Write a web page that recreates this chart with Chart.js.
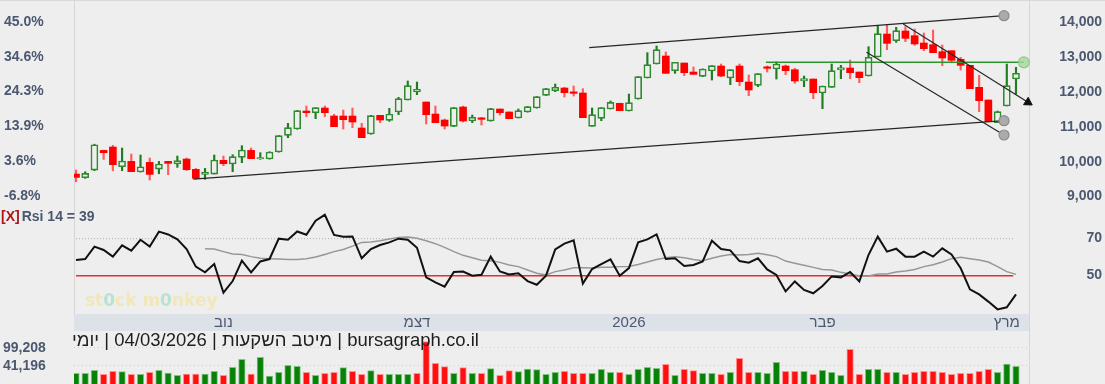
<!DOCTYPE html>
<html>
<head>
<meta charset="utf-8">
<script src="https://cdn.jsdelivr.net/npm/chart.js@4.4.1/dist/chart.umd.min.js"></script>
<style>
  body { margin: 0; background: #eeeeee; width: 1105px; height: 384px; overflow: hidden; position: relative;
         font-family: "Liberation Sans", Arial, sans-serif; }
  .panel { position: absolute; left: 0; }
  .vline { position: absolute; width: 1px; background: #d6d6d6; }
  #topline { position: absolute; left: 0; top: 0; width: 1105px; height: 1px; background: #d8d8d8; }
  #rsiLabel { position: absolute; left: 1px; top: 208px; font-size: 14px; font-weight: bold; color: #4b5870; white-space: nowrap; }
  #rsiLabel .x { color: #b01515; margin-right: 2px; }
  #info { position: absolute; left: 72px; top: 329px; font-size: 18.5px; color: #1e1e1e; white-space: nowrap; }
  #wm { position: absolute; left: 85px; top: 290px; font-family: "DejaVu Sans", sans-serif; font-weight: bold;
        font-size: 17px; color: rgba(245, 226, 150, 0.6); white-space: nowrap; }
  #wm .o { color: rgba(150, 220, 190, 0.6); }
</style>
</head>
<body>
<div id="topline"></div>
<div class="vline" style="left:74px;top:0;height:314px"></div>
<div class="vline" style="left:1029px;top:0;height:384px"></div>
<div class="panel" style="top:0"><canvas id="price" width="1105" height="205"></canvas></div>
<div class="panel" style="top:205px"><canvas id="rsi" width="1105" height="126"></canvas></div>
<div class="panel" style="top:331px"><canvas id="vol" width="1105" height="53"></canvas></div>
<div id="rsiLabel"><span class="x">[X]</span>Rsi 14 = 39</div>
<div id="wm">st<span class="o">0</span>ck m<span class="o">0</span>nkey</div>
<div id="info" dir="rtl">bursagraph.co.il | מיטב השקעות | 04/03/2026 | יומי</div>
<script>
// daily candles
const opens = [9602,9497,9717,10282,10379,9813,9967,9660,9938,9746,
  9967,9890,10034,9737,9593,9602,9996,9890,10082,10282,
  10034,10034,10235,10714,10896,11413,11366,11500,11270,11270,
  11270,10925,10752,11289,11145,11385,11730,11959,11672,11327,
  11155,10973,11528,11126,11212,11126,11471,11385,11212,11385,
  11500,11864,11998,12074,11959,11931,10973,11203,11471,11634,
  11413,11758,12362,12764,12994,12573,12793,12534,12410,12563,
  12707,12362,12707,12247,12151,12678,12620,12707,12601,12276,
  12333,11931,12094,12592,12649,12534,12419,12965,13626,13435,
  13713,13578,13368,13320,13119,13147,12898,12726,12094,11730,
  11078,11557,12333];
const highs = [9717,9669,10460,10292,10427,10350,10177,10149,10063,9967,
  9967,10120,10063,9765,9765,10149,10120,10158,10417,10350,
  10216,10245,10710,11059,11430,11557,11509,11557,11318,11442,
  11500,11059,11290,11289,11490,11806,12276,12247,11672,11557,
  11183,11515,11557,11298,11232,11490,11471,11390,11471,11545,
  11830,12060,12189,12094,12132,12055,11500,11509,11701,11640,
  11902,12405,13090,13282,13109,12812,12793,12678,12625,12716,
  12764,12601,12764,12448,12486,12707,12822,12735,12640,12419,
  12333,12132,12764,12726,12879,12534,13262,13856,13885,13818,
  13837,13770,13655,13741,13310,13147,12956,12726,12438,11730,
  11413,12764,12668];
const lows = [9382,9478,9700,10024,9698,9698,9670,9660,9430,9612,
  9584,9794,9708,9459,9450,9602,9842,9669,9929,10044,
  10024,10030,10230,10647,10890,11251,11193,11251,10963,10896,
  10934,10647,10745,11078,11116,11308,11730,11883,11040,11078,
  10896,10965,11097,11078,11011,11120,11298,11190,11212,11380,
  11495,11860,11969,11816,11845,11222,10973,11136,11471,11420,
  11413,11755,12362,12764,12496,12496,12429,12467,12405,12304,
  12400,12170,12141,11854,12113,12534,12333,12458,12209,12113,
  11768,11481,12094,12343,12343,12228,12419,12965,13176,13387,
  13406,13301,13147,13090,12716,12802,12592,12055,11394,11107,
  11078,11557,11902];
const closes = [9506,9621,10445,10216,9871,9976,9670,9813,9593,9890,
  9909,9986,9727,9478,9660,10005,9900,10101,10292,10044,
  10072,10235,10705,10934,11423,11366,11509,11366,10963,11164,
  11097,10647,11280,11155,11327,11768,12141,12036,11308,11078,
  10982,11509,11126,11232,11174,11481,11366,11193,11423,11538,
  11825,12055,12094,11940,11921,11222,11308,11509,11662,11423,
  11653,12400,12745,13176,12496,12812,12515,12467,12620,12716,
  12419,12601,12256,12017,12486,12640,12764,12573,12276,12343,
  11940,12132,12573,12659,12515,12371,12956,13636,13358,13722,
  13502,13339,13205,13090,12937,12870,12726,12055,11710,11107,
  11394,12141,12496];
const volumes = [14400,14400,24100,11200,20800,19800,11200,11200,17600,24100,
  15500,7900,12200,12200,12200,20800,7900,33700,59500,12200,
  65900,5800,17600,40200,36900,17600,7900,14400,17600,32600,
  20800,11200,23000,11200,11200,11200,11200,14400,116400,46600,
  35900,14400,32600,14400,14400,29400,7900,23000,19800,28400,
  26200,11200,17600,20800,14400,14400,14400,27300,17600,17600,
  11200,27300,33700,30500,43400,7900,27300,23000,14400,14400,
  11200,17600,62700,17600,17600,14400,49800,20800,20800,20800,
  11200,24100,17600,7900,91700,11200,27300,27300,17600,17600,
  11200,17600,20800,20800,17600,11200,14400,14400,20800,27300,
  17600,44500,36900];
const rsi = [58.5,59,65.7,63.9,60.3,66.4,63.5,69.4,65.7,73.8,
  72.3,69.6,64.4,54.9,51.8,56.3,40.8,47.1,58.1,51.8,
  57.7,59,70,69.4,73.9,72.1,79.7,82.9,72,71.1,
  71.2,59.4,64.4,66.6,68,70,69.4,65.1,49.1,46.4,
  44.1,52,52.2,50,50.5,60.3,52.3,50.7,51.3,47.1,
  45.1,50,64.2,67.3,69.1,45.7,53.6,56.3,58.8,50,
  54.1,68,69.6,72.3,59,59.4,55.2,55.8,57.7,68.9,
  64.4,63.7,57.9,57,59.4,53.4,50.4,41.5,46.9,42.3,
  40.5,44.4,49.6,49.1,52,46.9,61.3,71.1,63,64.6,
  60.3,60.3,63,60.3,64.8,61.5,54,42.6,39.9,36,
  31.8,32.9,39.9];
const rsiAvg = [null,null,null,null,null,null,null,null,null,null,
  null,null,null,null,64.6,64.4,63,61.7,61.5,60.3,
  59.4,59.2,59,58.8,58.8,59.2,60.1,61.5,63,64.2,
  66,68,68.2,68.9,69.8,70.7,70.9,70.2,68.9,67.3,
  65.3,63,61,59.7,58.3,58.1,57.2,55.8,54.9,53.1,
  51.3,50.4,52.2,53.1,54.3,54.3,54.1,54.5,54.5,54.9,
  55,56.1,57.4,58.8,59.7,60.3,59.7,58.8,58.1,59.4,
  60.6,61.5,61.2,61.5,62.1,61.3,60.3,57.9,56.7,55.6,
  54.5,53.4,53.1,51.8,50.9,49.8,49.8,50.9,50.9,52,
  52.5,53.4,54.9,55.9,57.4,59.2,59.9,59.2,58.5,57.4,
  54.9,52.2,50.7];

// axis labels
const priceTicks = [9000, 10000, 11000, 12000, 13000, 14000];
const pctLabels = ['-6.8%', '3.6%', '13.9%', '24.3%', '34.6%', '45.0%'];
const rsiTicks = [50, 70];
const volTicks = [41196, 99208];
const monthTicks = [16, 37, 60, 81, 101];
const monthLabels = ['נוב', 'דצמ', '2026', 'פבר', 'מרץ'];

// drawn lines: [candle index, price]
const channelLow = [[12.73, 9459], [100.7, 11135]];
const channelHigh = [[55.69, 13233], [100.7, 14152]];
const fallHigh = [[89.76, 13914], [103.3, 11663]];
const fallLow = [[85.78, 13100], [100.7, 10724]];
const resistance = [[74.86, 12813], [102.85, 12813]];
const rsiLineEnd = 101.7;

const TXT = '#4b5870';
const X_MIN = -0.217, X_MAX = 103.41;

Chart.defaults.font.family = '"Liberation Sans", Arial, sans-serif';
Chart.defaults.animation = false;
Chart.defaults.plugins.legend.display = false;
Chart.defaults.plugins.tooltip.enabled = false;

const isUp = opens.map((o, i) => closes[i] >= o);
const volUp = closes.map((c, i) => i === 0 || c >= closes[i - 1]);
const xAxis = { type: 'linear', min: X_MIN, max: X_MAX, offset: false, display: false };
const boldTicks = { font: { size: 14, weight: 'bold' }, color: TXT, autoSkip: false, crossAlign: 'far', padding: 0 };

// fixed width, and no extra room for the end labels
const fitY = w => s => { s.width = w; s.paddingTop = 0; s.paddingBottom = 0; };

function trend(points, color, width, marker) {
  const ds = {
    type: 'line',
    data: points.map(p => ({ x: p[0], y: p[1] })),
    borderColor: color,
    borderWidth: width,
    pointRadius: [0, 0],
    clip: false
  };
  if (marker === 'grey') {
    Object.assign(ds, { pointRadius: [0, 5], pointBackgroundColor: '#ababab', pointBorderColor: '#8c8c8c', pointBorderWidth: 1.2 });
  } else if (marker === 'green') {
    Object.assign(ds, { pointRadius: [0, 5.5], pointBackgroundColor: 'rgba(165,215,155,0.8)', pointBorderColor: 'rgba(135,195,125,0.8)', pointBorderWidth: 1.2 });
  } else if (marker === 'arrow') {
    Object.assign(ds, { pointRadius: [0, 5], pointStyle: 'triangle', rotation: 122, pointBackgroundColor: '#111', pointBorderColor: '#111', pointBorderWidth: 1 });
  }
  return ds;
}

// price panel
new Chart(document.getElementById('price'), {
  type: 'bar',
  data: {
    datasets: [
      trend(channelLow, '#262626', 1.3, 'grey'),
      trend(channelHigh, '#262626', 1.3, 'grey'),
      trend(fallHigh, '#262626', 1.2, 'arrow'),
      trend(fallLow, '#262626', 1.2, 'grey'),
      trend(resistance, '#2b962b', 1.5, 'green'),
      {
        type: 'bar',
        data: opens.map((o, i) => ({ x: i, y: [Math.min(o, closes[i]), Math.max(o, closes[i])] })),
        backgroundColor: isUp.map(u => u ? '#eeeeee' : '#ff0000'),
        borderColor: isUp.map(u => u ? '#2e8b2e' : '#ff0000'),
        borderWidth: isUp.map(u => u ? 1.6 : 0),
        borderSkipped: false,
        barThickness: 7,
        minBarLength: 1.5,
        grouped: false
      },
      {
        type: 'bar',
        data: lows.map((l, i) => ({ x: i, y: [l, highs[i]] })),
        backgroundColor: isUp.map(u => u ? '#1f7d1f' : '#ff5c5c'),
        barThickness: 1.5,
        grouped: false
      }
    ]
  },
  options: {
    responsive: false,
    layout: { autoPadding: false, padding: { left: 4, right: 3, top: 2, bottom: 0 } },
    scales: {
      x: xAxis,
      y: {
        position: 'right', min: 8713, max: 14546,
        afterBuildTicks: s => { s.ticks = priceTicks.map(v => ({ value: v })); },
        afterFit: fitY(73),
        ticks: Object.assign({}, boldTicks, { labelOffset: 1.5, callback: v => v.toLocaleString('en-US') }),
        grid: { display: false }, border: { display: false }
      },
      pct: {
        position: 'left', min: 8713, max: 14546,
        afterBuildTicks: s => { s.ticks = priceTicks.map(v => ({ value: v })); },
        afterFit: fitY(70),
        ticks: Object.assign({}, boldTicks, { labelOffset: 1, callback: (v, i) => pctLabels[i] }),
        grid: { display: false }, border: { display: false }
      }
    }
  }
});

// month band under the RSI panel
const monthBand = {
  id: 'monthBand',
  beforeDraw(chart) {
    const a = chart.chartArea, ctx = chart.ctx;
    ctx.save();
    ctx.fillStyle = '#dde2e9';
    ctx.fillRect(a.left, a.bottom, a.right - a.left, chart.height - a.bottom);
    ctx.restore();
  }
};

// RSI panel
new Chart(document.getElementById('rsi'), {
  type: 'line',
  data: {
    datasets: [
      { data: rsi.map((v, i) => ({ x: i, y: v })), borderColor: '#111111', borderWidth: 2, pointRadius: 0 },
      { data: rsiAvg.map((v, i) => ({ x: i, y: v })), borderColor: '#979797', borderWidth: 1.5, pointRadius: 0 },
      { data: [{ x: 0, y: rsiTicks[0] }, { x: rsiLineEnd, y: rsiTicks[0] }], borderColor: '#ee2a2a', borderWidth: 1.5, pointRadius: 0 },
      { data: [{ x: 0, y: rsiTicks[1] }, { x: rsiLineEnd, y: rsiTicks[1] }], borderColor: '#a9a9a9', borderWidth: 1, borderDash: [1, 2], pointRadius: 0 }
    ]
  },
  options: {
    responsive: false,
    layout: { autoPadding: false, padding: { left: 74, right: 3, top: 0, bottom: 0 } },
    scales: {
      x: {
        type: 'linear', min: X_MIN, max: X_MAX, offset: false, position: 'bottom',
        afterBuildTicks: s => { s.ticks = monthTicks.map(v => ({ value: v })); },
        afterFit: s => { s.height = 17; s.paddingLeft = 0; s.paddingRight = 0; },
        ticks: { callback: (v, i) => monthLabels[i], autoSkip: false, maxRotation: 0, font: { size: 15 }, color: TXT, padding: 0 },
        grid: { display: false, drawTicks: false }, border: { display: false }
      },
      y: {
        position: 'right', min: 29.3, max: 88.2,
        afterBuildTicks: s => { s.ticks = rsiTicks.map(v => ({ value: v })); },
        afterFit: fitY(73),
        ticks: Object.assign({}, boldTicks, { labelOffset: -1 }),
        grid: { display: false }, border: { display: false }
      }
    }
  },
  plugins: [monthBand]
});

// volume panel
const VOL_MIN = -19983, VOL_MAX = 150840;
new Chart(document.getElementById('vol'), {
  type: 'bar',
  data: {
    datasets: [{
      data: volumes.map((v, i) => ({ x: i, y: v })),
      base: VOL_MIN,
      backgroundColor: volUp.map(u => u ? '#078207' : '#ff1010'),
      borderColor: volUp.map(u => u ? 'rgba(120,190,120,0.9)' : 'rgba(255,140,140,0.95)'),
      borderWidth: 1,
      borderSkipped: 'bottom',
      barThickness: 6.5
    }]
  },
  options: {
    responsive: false,
    layout: { autoPadding: false, padding: { left: 3, right: 76, top: 0, bottom: 0 } },
    scales: {
      x: xAxis,
      y: {
        position: 'left', min: VOL_MIN, max: VOL_MAX,
        afterBuildTicks: s => { s.ticks = volTicks.map(v => ({ value: v })); },
        afterFit: fitY(71),
        ticks: Object.assign({}, boldTicks, { labelOffset: 1, callback: v => v.toLocaleString('en-US') }),
        grid: { color: '#cfcfcf', drawTicks: false },
        border: { display: false, dash: [1, 3] }
      }
    }
  }
});
</script>
</body>
</html>
